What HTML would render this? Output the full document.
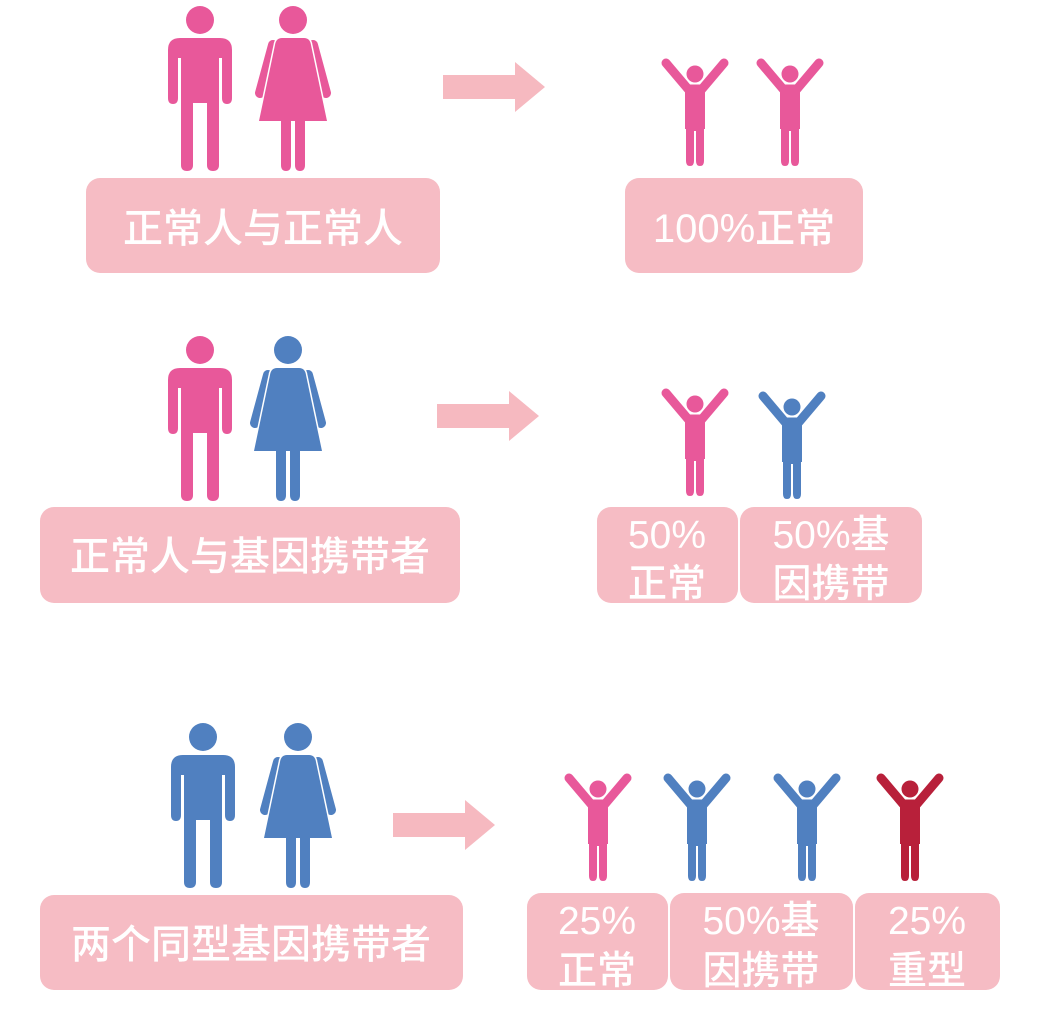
<!DOCTYPE html>
<html><head><meta charset="utf-8"><style>
html,body{margin:0;padding:0;background:#fff;}
svg{display:block}
text{font-family:"Liberation Sans","Noto Sans CJK SC",sans-serif;fill:#fff;text-anchor:middle;font-weight:500}
</style></head><body>
<svg width="1038" height="1026" viewBox="0 0 1038 1026" xmlns="http://www.w3.org/2000/svg">
<defs>
<g id="man">
<circle cx="32" cy="17" r="14"/>
<path d="M12 35 H52 Q64 35 64 47 V95 Q64 101 59 101 Q54 101 54 95 V55 H51 V162 Q51 168 45 168 Q39 168 39 162 V100 H25 V162 Q25 168 19 168 Q13 168 13 162 V55 H10 V95 Q10 101 5 101 Q0 101 0 95 V47 Q0 35 12 35 Z"/>
</g>
<g id="woman">
<circle cx="38" cy="17" r="14"/>
<path d="M18 42 L5 90 M58 42 L71 90" stroke="currentColor" stroke-width="10" stroke-linecap="round" fill="none"/>
<path d="M27 35 H49 Q55 35 56 42 L72 118 H4 L20 42 Q21 35 27 35 Z" stroke="#fff" stroke-width="3"/>
<path d="M27 35 H49 Q55 35 56 42 L72 118 H4 L20 42 Q21 35 27 35 Z"/>
<path d="M26 112 H36 V162 Q36 168 31 168 Q26 168 26 162 Z M40 112 H50 V162 Q50 168 45 168 Q40 168 40 162 Z"/>
</g>
<g id="kid">
<circle cx="35" cy="17" r="8.5"/>
<path d="M6 6 L28 32 H42 L64 6" fill="none" stroke-width="9" stroke-linecap="round" stroke-linejoin="round" stroke="currentColor"/>
<path d="M25 30 H45 V72 H44 V104 Q44 109 40 109 Q36 109 36 104 V74 H34 V104 Q34 109 30 109 Q26 109 26 104 V72 H25 Z"/>
</g>
<g id="arrow"><path d="M0 13 H72 V0 L102 25 L72 50 V37 H0 Z" fill="#f6b9c0"/></g>
</defs>

<!-- Row 1 -->
<g fill="#e8589a" color="#e8589a"><use href="#man" transform="translate(168,3)"/><use href="#woman" transform="translate(255,3)"/></g>
<use href="#arrow" transform="translate(443,62)"/>
<g fill="#e8589a" color="#e8589a"><use href="#kid" transform="translate(660,57)"/><use href="#kid" transform="translate(755,57)"/></g>
<rect x="86" y="178" width="354" height="95" rx="14" fill="#f6bcc4"/>
<text x="263" y="242" font-size="40">正常人与正常人</text>
<rect x="625" y="178" width="238" height="95" rx="14" fill="#f6bcc4"/>
<text x="744" y="242" font-size="40">100%正常</text>

<!-- Row 2 -->
<g fill="#e8589a"><use href="#man" transform="translate(168,333)"/></g>
<g fill="#5080c0" color="#5080c0"><use href="#woman" transform="translate(250,333)"/></g>
<use href="#arrow" transform="translate(437,391)"/>
<g fill="#e8589a" color="#e8589a"><use href="#kid" transform="translate(660,387)"/></g>
<g fill="#5080c0" color="#5080c0"><use href="#kid" transform="translate(757,390)"/></g>
<rect x="40" y="507" width="420" height="96" rx="14" fill="#f6bcc4"/>
<text x="250" y="570" font-size="40">正常人与基因携带者</text>
<rect x="597" y="507" width="141" height="96" rx="14" fill="#f6bcc4"/>
<rect x="740" y="507" width="182" height="96" rx="14" fill="#f6bcc4"/>
<text x="667" y="548" font-size="39">50%</text>
<text x="667" y="597" font-size="39">正常</text>
<text x="831" y="548" font-size="39">50%基</text>
<text x="831" y="597" font-size="39">因携带</text>

<!-- Row 3 -->
<g fill="#5080c0" color="#5080c0"><use href="#man" transform="translate(171,720)"/><use href="#woman" transform="translate(260,720)"/></g>
<use href="#arrow" transform="translate(393,800)"/>
<g fill="#e8589a" color="#e8589a"><use href="#kid" transform="translate(563,772)"/></g>
<g fill="#5080c0" color="#5080c0"><use href="#kid" transform="translate(662,772)"/><use href="#kid" transform="translate(772,772)"/></g>
<g fill="#b8203a" color="#b8203a"><use href="#kid" transform="translate(875,772)"/></g>
<rect x="40" y="895" width="423" height="95" rx="14" fill="#f6bcc4"/>
<text x="251" y="958" font-size="40">两个同型基因携带者</text>
<rect x="527" y="893" width="141" height="97" rx="14" fill="#f6bcc4"/>
<rect x="670" y="893" width="183" height="97" rx="14" fill="#f6bcc4"/>
<rect x="855" y="893" width="145" height="97" rx="14" fill="#f6bcc4"/>
<text x="597" y="934" font-size="39">25%</text>
<text x="597" y="984" font-size="39">正常</text>
<text x="761" y="934" font-size="39">50%基</text>
<text x="761" y="984" font-size="39">因携带</text>
<text x="927" y="934" font-size="39">25%</text>
<text x="927" y="984" font-size="39">重型</text>
</svg>
</body></html>
